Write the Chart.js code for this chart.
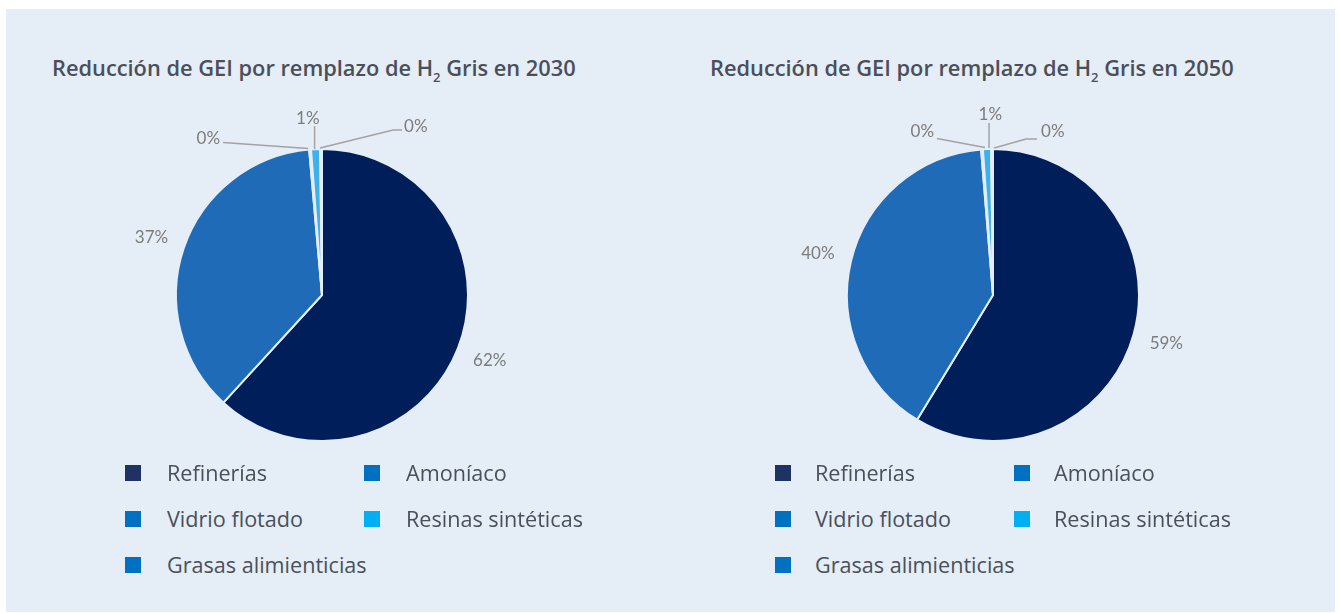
<!DOCTYPE html>
<html>
<head>
<meta charset="utf-8">
<script src="https://cdn.jsdelivr.net/npm/chart.js@4"></script>
<style>
  body { margin: 0; background: #fff; font-family: 'Open Sans', sans-serif; }
  #panel { position: absolute; left: 6px; top: 9px; width: 1329px; height: 603px; background: #e5edf6; }
  .title { position: absolute; font-size: 21.8px; font-weight: 600; color: #4a4f5a; white-space: nowrap; line-height: 28px; }
  .title sub { font-size: 13px; vertical-align: -6px; line-height: 0; }
  .cv { position: absolute; }
  .legend { position: absolute; }
  .item { position: absolute; font-size: 21.6px; color: #4a505a; white-space: nowrap; line-height: 24px; }
  .item span.sq { position: absolute; width: 16px; height: 16px; top: 4px; }
</style>
</head>
<body>
<div id="panel"></div>
<div class="title" style="left:52px; top:54px;">Reducción de GEI por remplazo de H<sub>2</sub> Gris en 2030</div>
<div class="title" style="left:710px; top:54px;">Reducción de GEI por remplazo de H<sub>2</sub> Gris en 2050</div>
<canvas id="pie2030" class="cv" style="left:92px; top:95px;" width="460" height="400"></canvas>
<canvas id="pie2050" class="cv" style="left:763px; top:95px;" width="460" height="400"></canvas>
<div id="legend2030" class="legend" style="left:125px; top:461px;"></div>
<div id="legend2050" class="legend" style="left:775px; top:461px;"></div>
<script>
// data
const categories = ['Refinerías', 'Amoníaco', 'Vidrio flotado', 'Resinas sintéticas', 'Grasas alimienticias'];
const values2030 = [61.8, 36.8, 0.2, 1.0, 0.2];
const values2050 = [58.7, 40.0, 0.2, 0.9, 0.2];

// styles
const sliceColors = ['#001e5a', '#1f6bb8', '#1f6bb8', '#3db2ea', '#1f6bb8'];
const legendColors = ['#1e3264', '#0070c0', '#0070c0', '#00b0f0', '#0070c0'];
const bgColor = '#e5edf6';

// leader lines for the tiny slices, relative to the slice's outer edge point
const smallLabels2030 = {
    2: { line: [[-2, -1], [-87, -7]], text: [-90, -11], align: 'right' },
    3: { line: [[-1, 0], [-1, -23]], text: [4, -31], align: 'right' },
    4: { line: [[-1, -1], [72, -19], [81, -19]], text: [83, -22], align: 'left' }
};
const smallLabels2050 = {
    2: { line: [[3, -2], [-45, -11]], text: [-48, -18], align: 'right' },
    3: { line: [[2, -1], [2, -26]], text: [15, -35], align: 'right' },
    4: { line: [[2, -1], [34, -10], [45, -10]], text: [49, -17], align: 'left' }
};

const pieLabels = {
    id: 'pieLabels',
    afterDatasetsDraw(chart, args, opts) {
        const ctx = chart.ctx;
        const data = chart.data.datasets[0].data;
        const total = data.reduce((a, b) => a + b, 0);
        const arcs = chart.getDatasetMeta(0).data;
        ctx.save();
        ctx.font = '17px Lato, "DejaVu Sans", sans-serif';
        ctx.fillStyle = '#7c7c7c';
        ctx.strokeStyle = '#a3a3a3';
        ctx.lineWidth = 1.5;
        ctx.textBaseline = 'middle';
        arcs.forEach((arc, i) => {
            const p = arc.getProps(['x', 'y', 'startAngle', 'endAngle', 'outerRadius'], true);
            const mid = (p.startAngle + p.endAngle) / 2;
            const txt = Math.round(data[i] / total * 100) + '%';
            const small = opts.small[i];
            if (!small) {
                const r = p.outerRadius + 34;
                ctx.textAlign = 'center';
                ctx.fillText(txt, p.x + Math.cos(mid) * r, p.y + Math.sin(mid) * r);
                return;
            }
            const ex = p.x + Math.cos(mid) * p.outerRadius;
            const ey = p.y + Math.sin(mid) * p.outerRadius;
            ctx.beginPath();
            small.line.forEach((pt, k) => {
                if (k === 0) ctx.moveTo(ex + pt[0], ey + pt[1]);
                else ctx.lineTo(ex + pt[0], ey + pt[1]);
            });
            ctx.stroke();
            ctx.textAlign = small.align;
            ctx.fillText(txt, ex + small.text[0], ey + small.text[1]);
        });
        ctx.restore();
    }
};

function makePie(id, values, small) {
    return new Chart(document.getElementById(id), {
        type: 'pie',
        data: {
            labels: categories,
            datasets: [{
                data: values,
                backgroundColor: sliceColors,
                borderColor: bgColor,
                borderWidth: 2
            }]
        },
        options: {
            responsive: false,
            animation: false,
            layout: { padding: { top: 53, bottom: 53, left: 83, right: 83 } },
            plugins: {
                legend: { display: false },
                tooltip: { enabled: false },
                pieLabels: { small: small }
            }
        },
        plugins: [pieLabels]
    });
}

function makeLegend(id, colX) {
    const box = document.getElementById(id);
    const order = [[0, 0, 0], [1, 1, 0], [2, 0, 1], [3, 1, 1], [4, 0, 2]];
    order.forEach(([i, col, row]) => {
        const d = document.createElement('div');
        d.className = 'item';
        d.style.left = colX[col] + 'px';
        d.style.top = (row * 46) + 'px';
        d.style.paddingLeft = (colX[2]) + 'px';
        d.innerHTML = '<span class="sq" style="left:0;background:' + legendColors[i] + '"></span>' + categories[i];
        box.appendChild(d);
    });
}

makePie('pie2030', values2030, smallLabels2030);
makePie('pie2050', values2050, smallLabels2050);
makeLegend('legend2030', [0, 239, 42]);
makeLegend('legend2050', [0, 239, 40]);
</script>
</body>
</html>
